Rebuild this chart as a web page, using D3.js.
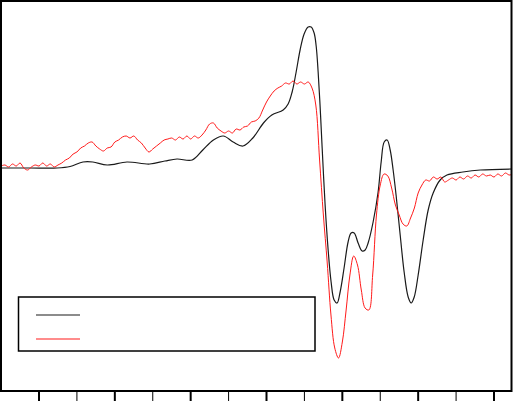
<!DOCTYPE html>
<html>
<head>
<meta charset="utf-8">
<script src="https://cdn.jsdelivr.net/npm/d3@7"></script>
<style>
  html, body { margin: 0; padding: 0; background: #fff; }
  svg { display: block; }
</style>
</head>
<body>
<svg id="chart" width="514" height="401"></svg>
<script>
// ─── Data ───────────────────────────────────────────────────────────────────
// black trace: smooth simulated spectrum (field in G, signal in arb. units)
const simField = [3051, 3088, 3124, 3141, 3158, 3171, 3190, 3216, 3246, 3266,
  3282, 3302, 3316, 3330, 3343, 3356, 3369, 3382, 3396, 3407,
  3422, 3428.5, 3433.8, 3439.1, 3444.3, 3449.6, 3454.9, 3458.9, 3462.8, 3465.5,
  3468.1, 3470.8, 3473.4, 3477.3, 3481.3, 3485.2, 3489.2, 3493.1, 3497.1, 3502.3,
  3507.6, 3511.6, 3515.6, 3520.8, 3526.1, 3530.1, 3534.0, 3540.6, 3547.2, 3551.2,
  3555.2, 3559.1, 3563.1, 3567.0, 3571.0, 3576.3, 3581.5, 3586.8, 3590.8, 3594.8,
  3600.0, 3606.6, 3613.2, 3619.8, 3629, 3638, 3659, 3682, 3724];
const simSignal = [0, 0, 0, 1.5, 6, 6, 3, 6, 4, 7,
  9, 8, 18, 28, 32, 26, 22, 30, 45, 53,
  58, 64, 76, 96, 118, 134, 141, 141, 135, 122,
  96, 60, 20, -37, -82, -114, -132, -135, -124, -100,
  -74, -65, -65, -75, -83, -82, -75, -54, -24, 6,
  26, 28, 18, -2, -28, -67, -104, -129, -135, -129,
  -107, -72, -42, -25, -12, -7, -4, -2, -1];

// red trace: measured spectrum (noisy)
const expField = [3050, 3055, 3060, 3065, 3070, 3075, 3080, 3085, 3090, 3095,
  3100, 3105, 3110, 3115, 3120, 3125, 3130, 3135, 3140, 3145,
  3150, 3155, 3160, 3165, 3170, 3175, 3180, 3185, 3190, 3195,
  3200, 3205, 3210, 3215, 3220, 3225, 3230, 3235, 3240, 3245,
  3250, 3255, 3260, 3265, 3270, 3275, 3280, 3285, 3290, 3295,
  3300, 3305, 3310, 3315, 3320, 3325, 3330, 3335, 3340, 3345,
  3350, 3355, 3360, 3365, 3370, 3375, 3380, 3385, 3390, 3395,
  3400, 3405, 3410, 3415, 3420, 3425, 3430, 3435, 3440, 3445,
  3450, 3455, 3460, 3465, 3470, 3475, 3480, 3485, 3490, 3495,
  3500, 3505, 3510, 3515, 3520, 3525, 3530, 3535, 3540, 3545,
  3550, 3555, 3560, 3565, 3570, 3575, 3580, 3585, 3590, 3595,
  3600, 3605, 3610, 3615, 3620, 3625, 3630, 3635, 3640, 3645,
  3650, 3655, 3660, 3665, 3670, 3675, 3680, 3685, 3690, 3695,
  3700, 3705, 3710, 3715, 3720, 3725];
const expSignal = [2, 3, 1, 4, 2, 5, 0, -2, 1, 3,
  2, 5, 2, 4, 1, 3, 5, 8, 10, 14,
  16, 20, 22, 25, 26, 22, 19, 17, 20, 21,
  26, 28, 31, 32, 30, 32, 28, 25, 20, 16,
  19, 22, 25, 28, 29, 30, 28, 31, 29, 32,
  29, 32, 30, 33, 38, 44, 45, 40, 37, 35,
  37, 35, 39, 38, 41, 42, 46, 47, 50, 58,
  66, 72, 77, 80, 82, 85, 84, 87, 84, 86,
  84, 86, 80, 63, 8, -47, -94, -147, -180, -190,
  -174, -142, -107, -88, -97, -122, -140, -142, -107, -47,
  -17, -6, -8, -20, -37, -47, -56, -58, -50, -40,
  -25, -17, -12, -13, -9, -11, -9, -14, -12, -10,
  -12, -9, -11, -8, -10, -7, -9, -6, -8, -7,
  -9, -6, -8, -5, -7, -6];

const majorTicks = [3100, 3200, 3300, 3400, 3500, 3600, 3700];
const minorTicks = [3150, 3250, 3350, 3450, 3550, 3650];
const seriesNames = ["", ""];   // legend labels are blank in the original
const seriesColors = ["#1a1a1a", "#ff1a1a"];

// ─── Layout ─────────────────────────────────────────────────────────────────
const frame = { left: 1, top: 1, right: 511.5, bottom: 391 };

const x = d3.scaleLinear().domain([3100, 3700]).range([39, 494]);
const y = d3.scaleLinear().domain([0, 100]).range([168, 68]);

const svg = d3.select("#chart");

// clip curves to the frame
svg.append("defs").append("clipPath").attr("id", "plotClip")
  .append("rect")
  .attr("x", frame.left).attr("y", frame.top)
  .attr("width", frame.right - frame.left)
  .attr("height", frame.bottom - frame.top);

const line = d3.line()
  .x(d => x(d[0]))
  .y(d => y(d[1]))
  .curve(d3.curveCatmullRom.alpha(0.5));

const sim = d3.zip(simField, simSignal);
const exp = d3.zip(expField, expSignal);

const plot = svg.append("g").attr("clip-path", "url(#plotClip)");

plot.append("path").datum(sim)
  .attr("fill", "none")
  .attr("stroke", seriesColors[0])
  .attr("stroke-width", 1.2)
  .attr("d", line);

plot.append("path").datum(exp)
  .attr("fill", "none")
  .attr("stroke", seriesColors[1])
  .attr("stroke-width", 1)
  .attr("d", line);

// ─── Frame & ticks ──────────────────────────────────────────────────────────
svg.append("rect")
  .attr("x", frame.left).attr("y", frame.top)
  .attr("width", frame.right - frame.left)
  .attr("height", frame.bottom - frame.top)
  .attr("fill", "none")
  .attr("stroke", "#000")
  .attr("stroke-width", 2);

const axis = svg.append("g");
axis.selectAll("line.major").data(majorTicks).join("line")
  .attr("class", "major")
  .attr("x1", d => x(d)).attr("x2", d => x(d))
  .attr("y1", frame.bottom).attr("y2", frame.bottom + 12)
  .attr("stroke", "#000").attr("stroke-width", 2);

axis.selectAll("line.minor").data(minorTicks).join("line")
  .attr("class", "minor")
  .attr("x1", d => x(d)).attr("x2", d => x(d))
  .attr("y1", frame.bottom).attr("y2", frame.bottom + 12)
  .attr("stroke", "#000").attr("stroke-width", 1);

// ─── Legend ─────────────────────────────────────────────────────────────────
const legend = svg.append("g");
legend.append("rect")
  .attr("x", 18.5).attr("y", 297)
  .attr("width", 296.5).attr("height", 54)
  .attr("fill", "#fff")
  .attr("stroke", "#000")
  .attr("stroke-width", 1.5);

seriesColors.forEach((c, i) => {
  const ly = 315 + i * 24;
  legend.append("line")
    .attr("x1", 36).attr("x2", 80)
    .attr("y1", ly).attr("y2", ly)
    .attr("stroke", c).attr("stroke-width", 1.2);
  legend.append("text")
    .attr("x", 88).attr("y", ly + 4)
    .attr("font-family", "Liberation Sans, Arial, sans-serif")
    .attr("font-size", 12)
    .text(seriesNames[i]);
});
</script>
</body>
</html>
